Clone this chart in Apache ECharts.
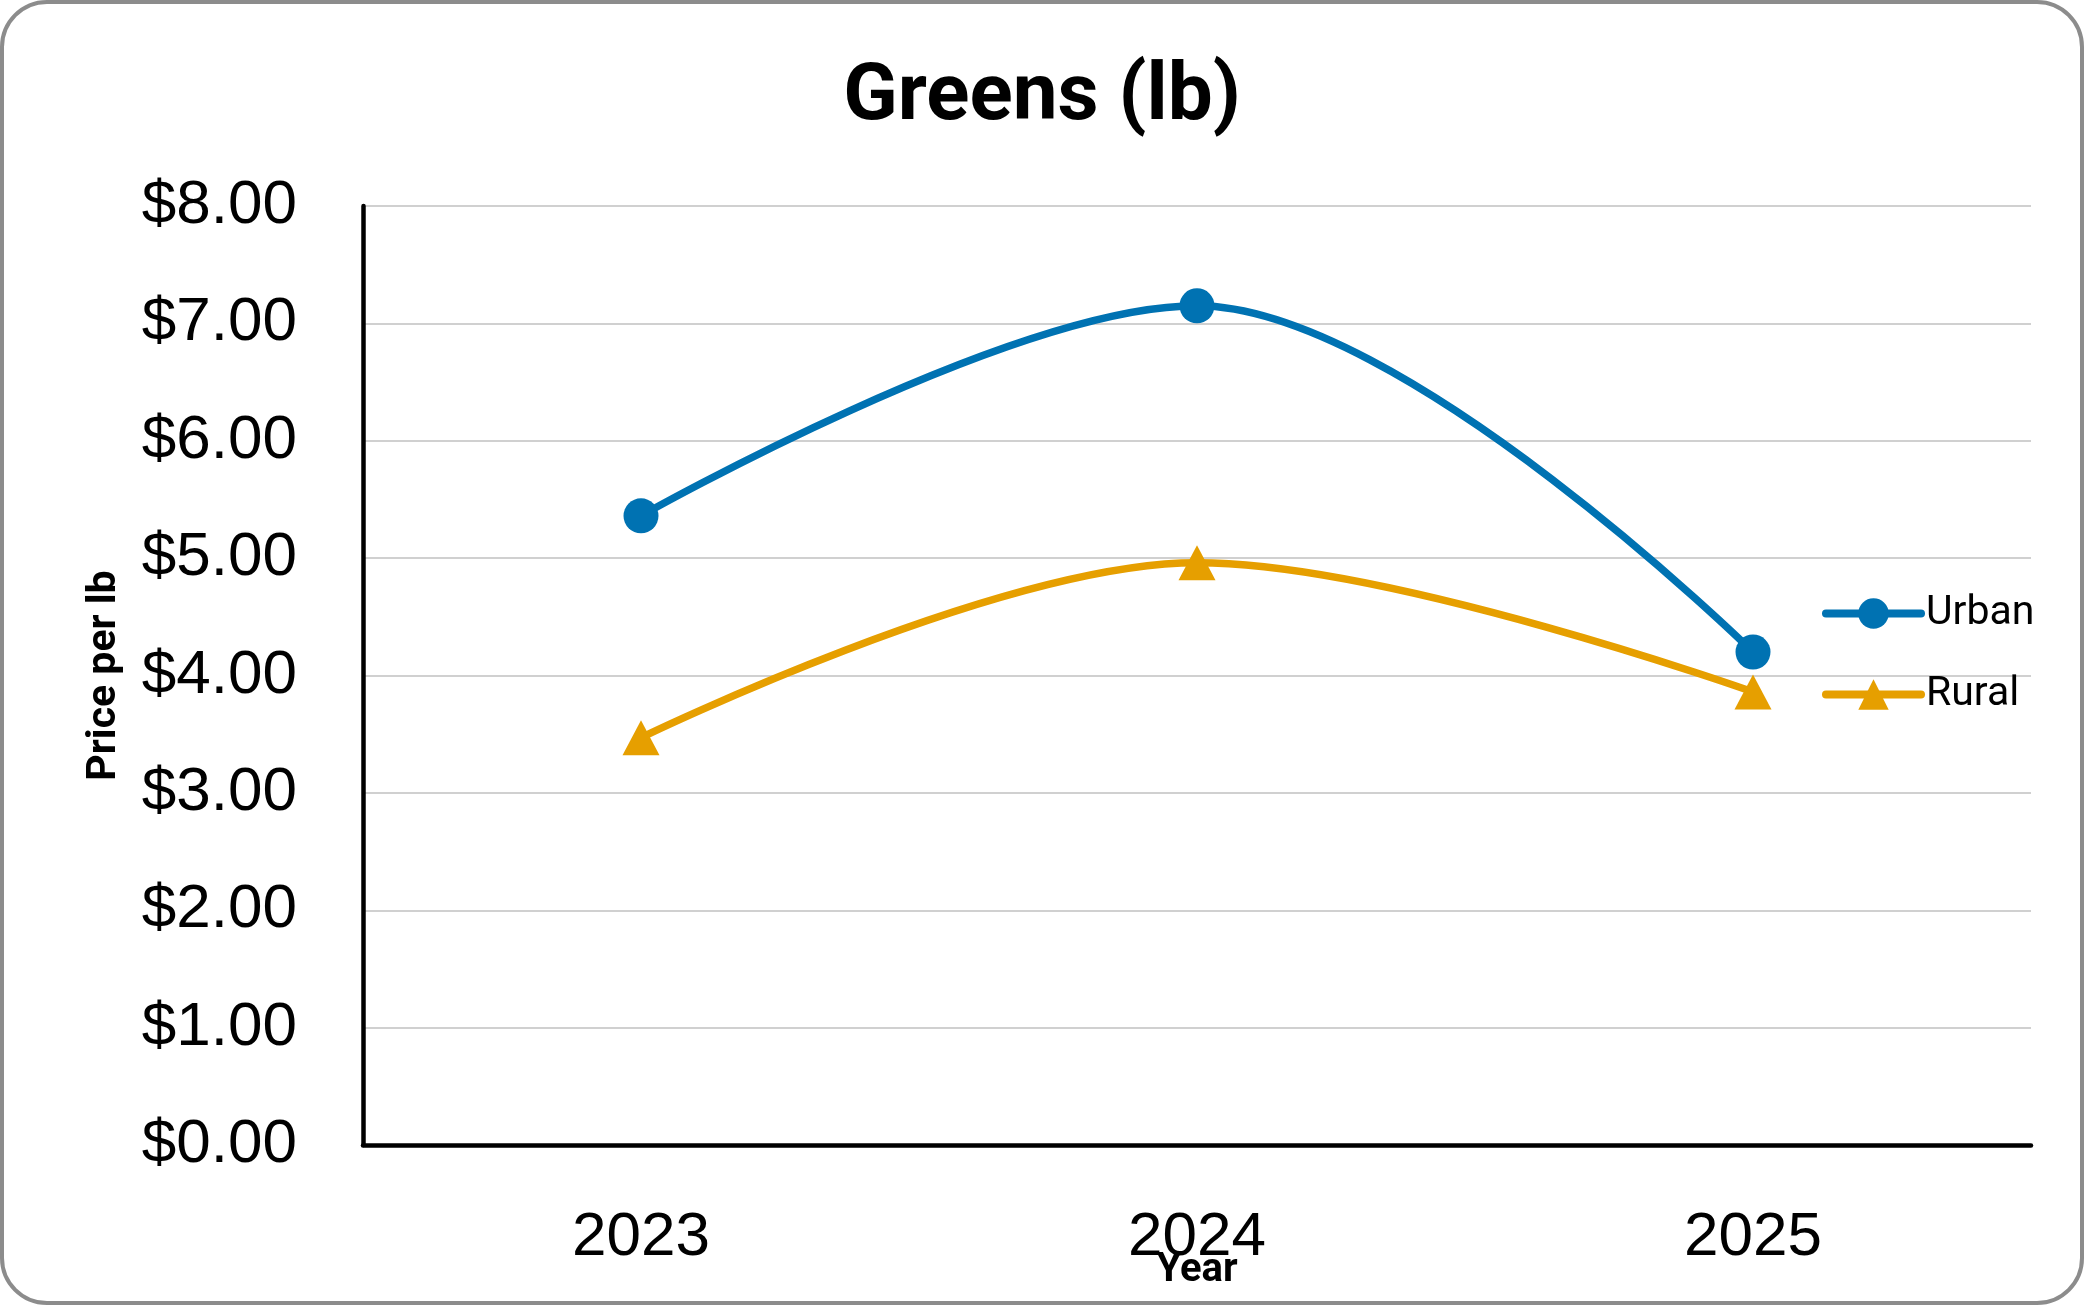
<!DOCTYPE html>
<html>
<head>
<meta charset="utf-8">
<script src="https://cdn.jsdelivr.net/npm/echarts@6/dist/echarts.min.js"></script>
<style>
html,body{margin:0;padding:0;background:#fff;}
#chart{width:2084px;height:1305px;}
</style>
</head>
<body>
<div id="chart"></div>
<script>
const titleText = 'Greens (lb)';
const categories = ['2023', '2024', '2025'];
const seriesNames = ['Urban', 'Rural'];
const urbanValues = [5.36, 7.15, 4.20];
const ruralValues = [3.47, 4.96, 3.86];
const yTickLabels = ['$0.00', '$1.00', '$2.00', '$3.00', '$4.00', '$5.00', '$6.00', '$7.00', '$8.00'];
const xAxisName = 'Year';
const yAxisName = 'Price per lb';

const chart = echarts.init(document.getElementById('chart'), null, {renderer: 'canvas'});
const option = {
  backgroundColor: '#ffffff',
  animation: false,
  graphic: [{
    type: 'rect',
    shape: {x: 2, y: 2, width: 2080, height: 1301, r: 45},
    style: {fill: 'none', stroke: '#8c8c8c', lineWidth: 4},
    z: 100
  }],
  title: {
    text: titleText,
    left: 'center',
    top: 54,
    textStyle: {fontFamily: 'Roboto', fontWeight: 'bold', fontSize: 80, color: '#000'}
  },
  legend: {
    orient: 'vertical',
    left: 1817,
    top: 588,
    itemWidth: 95,
    itemHeight: 38,
    itemGap: 40,
    data: seriesNames,
    lineStyle: {width: 8, cap: 'round'},
    textStyle: {fontFamily: 'Roboto', fontSize: 41, color: '#000'}
  },
  grid: {left: 363, right: 53, top: 206, bottom: 160, containLabel: false, outerBoundsMode: 'none'},
  xAxis: {
    type: 'category',
    data: categories,
    boundaryGap: true,
    name: xAxisName,
    nameLocation: 'middle',
    nameGap: 106,
    nameMoveOverlap: false,
    nameTextStyle: {fontFamily: 'Roboto', fontWeight: 'bold', fontSize: 40, color: '#000'},
    axisLine: {lineStyle: {color: '#000', width: 4.5}},
    axisTick: {show: false},
    axisLabel: {margin: 62, fontFamily: 'Liberation Sans', fontSize: 62, color: '#000'},
    splitLine: {show: false}
  },
  yAxis: {
    type: 'value',
    min: 0,
    max: 8,
    interval: 1,
    name: yAxisName,
    nameLocation: 'middle',
    nameGap: 238,
    nameMoveOverlap: false,
    nameTextStyle: {fontFamily: 'Roboto', fontWeight: 'bold', fontSize: 41, color: '#000'},
    axisLine: {show: true, lineStyle: {color: '#000', width: 4.5}},
    axisTick: {show: false},
    axisLabel: {
      margin: 66,
      fontFamily: 'Liberation Sans',
      fontSize: 62,
      color: '#000',
      formatter: function (v) { return yTickLabels[Math.round(v)]; }
    },
    splitLine: {lineStyle: {color: '#d0d0d0', width: 2}}
  },
  series: [
    {
      name: seriesNames[0],
      type: 'line',
      data: urbanValues,
      smooth: 0.35,
      symbol: 'circle',
      symbolSize: 35,
      color: '#0072B2',
      lineStyle: {width: 7.5, color: '#0072B2', cap: 'round'},
      itemStyle: {color: '#0072B2'}
    },
    {
      name: seriesNames[1],
      type: 'line',
      data: ruralValues,
      smooth: 0.35,
      symbol: 'triangle',
      symbolSize: [37, 35],
      color: '#E69F00',
      lineStyle: {width: 7.5, color: '#E69F00', cap: 'round'},
      itemStyle: {color: '#E69F00'}
    }
  ]
};
chart.setOption(option);
</script>
</body>
</html>
